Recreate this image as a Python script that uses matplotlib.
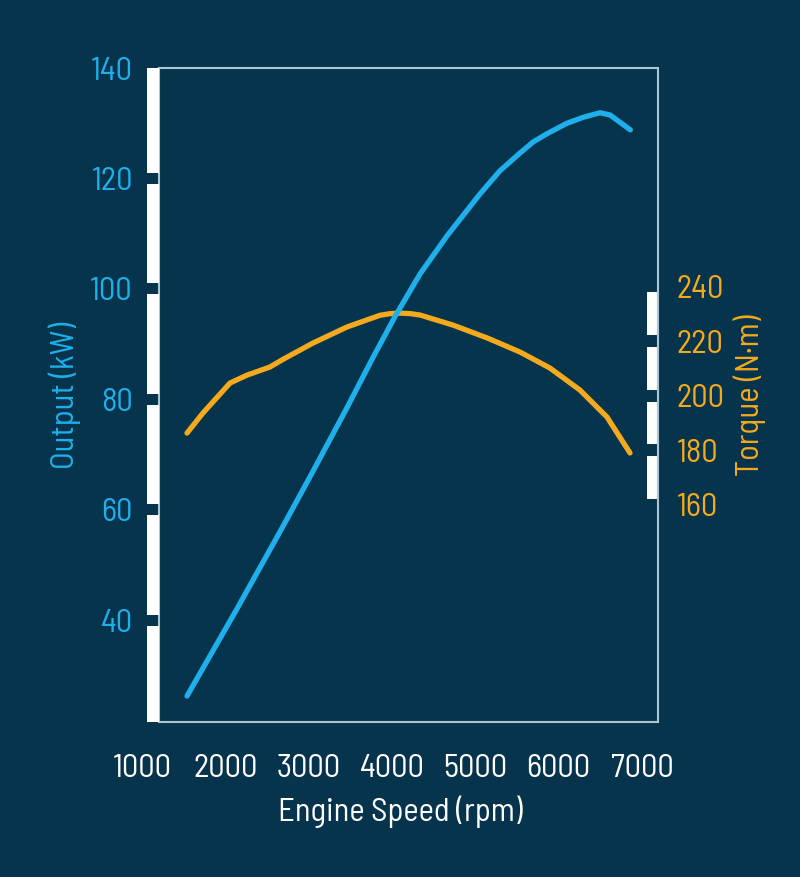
import matplotlib.pyplot as plt
import matplotlib.transforms as mtransforms
from matplotlib import font_manager as fm
from matplotlib.patches import Rectangle

# ---------------- data ----------------
rpm_out = [1540, 2140, 2680, 3052, 3460, 3772, 4036, 4336, 4660, 5056, 5296, 5536,
           5692, 5860, 6100, 6300, 6496, 6616, 6860]
output_kw = [26.3, 42.1, 56.7, 67.0, 78.5, 87.6, 95.0, 102.7, 109.6, 117.2, 121.4, 124.6,
             126.6, 128.1, 130.0, 131.1, 131.9, 131.5, 128.8]

rpm_tq = [1540, 1732, 2056, 2260, 2536, 2692, 3052, 3460, 3856, 3976, 4100, 4220, 4336, 4732,
          5140, 5536, 5896, 6256, 6580, 6856]
torque_nm = [186.3, 193.7, 204.7, 207.6, 210.6, 213.4, 219.4, 225.3, 229.6, 230.2, 230.4, 230.2, 229.7,
             226.0, 221.3, 216.1, 210.2, 202.1, 192.2, 179.0]

x_ticks = [1000, 2000, 3000, 4000, 5000, 6000, 7000]
left_ticks = [40, 60, 80, 100, 120, 140]
right_ticks = [160, 180, 200, 220, 240]

# ---------------- style ----------------
BG = "#06344c"
BLUE = "#1fb0ec"
ORANGE = "#f5aa1e"
FRAME = "#a9c6d3"


def pick_font(names):
    for n in names:
        try:
            fm.findfont(fm.FontProperties(family=n), fallback_to_default=False)
            return n
        except ValueError:
            pass
    return "DejaVu Sans"


font = pick_font(["Barlow Semi Condensed", "Roboto Condensed", "Fira Sans Condensed",
                  "IBM Plex Sans Condensed", "Liberation Sans Narrow"])
plt.rcParams["font.family"] = [font, "DejaVu Sans"]

W, H = 800, 877
fig = plt.figure(figsize=(W / 100, H / 100), dpi=100, facecolor=BG)

# axes box in pixels (x data range 1000-7000 sits at 142-642 px)
px_l, px_r, px_t, px_b = 142, 642, 68, 722
ax = fig.add_axes([px_l / W, 1 - px_b / H, (px_r - px_l) / W, (px_b - px_t) / H])
ax.set_facecolor("none")
for s in ax.spines.values():
    s.set_visible(False)

ax.set_xlim(1000, 7000)
ax.set_ylim(21.6, 140)
ax2 = ax.twinx()
for s in ax2.spines.values():
    s.set_visible(False)
ax2.set_ylim(80.1, 320.5)

# frame (thin light line) from 159 px to 658 px
fx0 = (159 - px_l) / (px_r - px_l)
fx1 = (658 - px_l) / (px_r - px_l)
ax.add_patch(Rectangle((fx0, 0), fx1 - fx0, 1, transform=ax.transAxes, fill=False,
                       edgecolor=FRAME, lw=1.5, clip_on=False, zorder=1))

# white bars with gaps at the ticks
bar_w = 12 * 0.72
lx = (153 - px_l) / (px_r - px_l)
rx = (653 - px_l) / (px_r - px_l)
tl = mtransforms.blended_transform_factory(ax.transAxes, ax.transData)
tr = mtransforms.blended_transform_factory(ax2.transAxes, ax2.transData)

left_edges = [21.6] + left_ticks
for i in range(len(left_edges) - 1):
    lo = left_edges[i] + (1.0 if i > 0 else 0)
    hi = left_edges[i + 1] - (1.0 if left_edges[i + 1] < 140 else 0)
    ax.plot([lx, lx], [lo, hi], color="white", lw=bar_w, solid_capstyle="butt",
            transform=tl, clip_on=False, zorder=2)

right_edges = [162, 180, 200, 220, 238]
for i in range(len(right_edges) - 1):
    lo = right_edges[i] + (2.2 if i > 0 else 0)
    hi = right_edges[i + 1] - (2.2 if i < len(right_edges) - 2 else 0)
    ax2.plot([rx, rx], [lo, hi], color="white", lw=bar_w, solid_capstyle="butt",
             transform=tr, clip_on=False, zorder=2)

# curves
ax2.plot(rpm_tq, torque_nm, color=ORANGE, lw=3.8, solid_capstyle="round",
         solid_joinstyle="round", zorder=3)
ax.plot(rpm_out, output_kw, color=BLUE, lw=3.8, solid_capstyle="round",
        solid_joinstyle="round", zorder=5)
ax.set_zorder(ax2.get_zorder() + 1)

# ticks
fs = 23.5
ax.set_xticks(x_ticks)
ax.set_xticklabels([str(t) for t in x_ticks])
ax.tick_params(axis="x", length=0, pad=23, labelsize=fs, labelcolor="white")
ax.set_yticks(left_ticks)
ax.tick_params(axis="y", length=0, pad=6.5, labelsize=fs, labelcolor=BLUE)
ax2.set_yticks(right_ticks)
ax2.tick_params(axis="y", length=0, pad=25, labelsize=fs, labelcolor=ORANGE)

# axis labels
ax.set_xlabel("Engine Speed (rpm)", fontsize=fs, color="white")
ax.xaxis.set_label_coords((400 - px_l) / (px_r - px_l), -(812 - px_b) / (px_b - px_t))
ax.xaxis.label.set_va("center")
ax.set_ylabel("Output (kW)", fontsize=fs, color=BLUE)
ax.yaxis.set_label_coords((65 - px_l) / (px_r - px_l), 0.5)
ax.yaxis.label.set_va("center")
ax2.set_ylabel("Torque (N·m)", fontsize=fs, color=ORANGE, rotation=90)
ax2.yaxis.set_label_coords((750 - px_l) / (px_r - px_l), 0.5)
ax2.yaxis.label.set_va("center")

fig.savefig("out.png", dpi=100, facecolor=BG)
